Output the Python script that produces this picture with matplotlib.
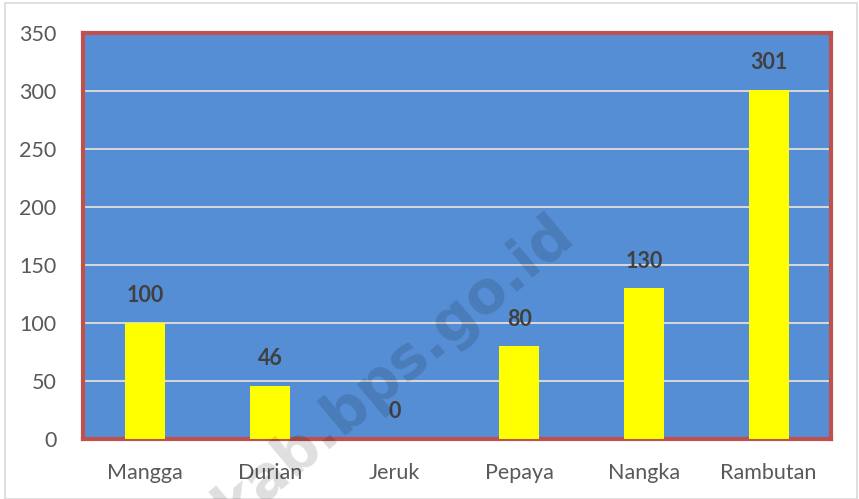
import matplotlib.pyplot as plt
from matplotlib.patches import Rectangle

# data
categories = ["Mangga", "Durian", "Jeruk", "Pepaya", "Nangka", "Rambutan"]
values = [100, 46, 0, 80, 130, 301]
yticks = [0, 50, 100, 150, 200, 250, 300, 350]

plt.rcParams['font.family'] = ['Lato', 'DejaVu Sans']

fig = plt.figure(figsize=(8.59, 4.99), dpi=100)
ax = fig.add_axes([0.0966, 0.12, 0.8707, 0.814])

ax.set_facecolor("#558ED5")
ax.bar(range(len(categories)), values, width=0.32, color="#FFFF00", zorder=3)

ax.set_xlim(-0.5, len(categories) - 0.5)
ax.set_ylim(0, 350)
ax.set_yticks(yticks)
ax.set_xticks(range(len(categories)))
ax.set_xticklabels(categories)
ax.tick_params(axis='both', length=0, labelsize=15.5, colors="#595959")
ax.tick_params(axis='x', pad=17)
ax.tick_params(axis='y', pad=19)
ax.grid(axis='y', color="#D9D9D9", linewidth=1.4, zorder=1)

for sp in ax.spines.values():
    sp.set_color("#C0504D")
    sp.set_linewidth(3)

for i, v in enumerate(values):
    ax.annotate(str(v), (i, v), xytext=(0, 12), textcoords='offset points',
                ha='center', va='bottom', fontsize=15.5, fontweight='bold',
                color="#404040", zorder=4)

# watermark (cut off at the bottom edge like the reference)
fig.text(0.458, 0.258, "kab.bps.go.id", fontsize=42, fontweight='bold',
         color="black", alpha=0.13, rotation=40, rotation_mode='anchor',
         ha='center', va='center', family='DejaVu Sans', zorder=10)

# outer border
fig.patches.append(Rectangle((0.006, 0.0), 0.992, 0.994, transform=fig.transFigure,
                             fill=False, edgecolor="#D9D9D9", linewidth=1.2))

fig.savefig("out.png", dpi=100)
